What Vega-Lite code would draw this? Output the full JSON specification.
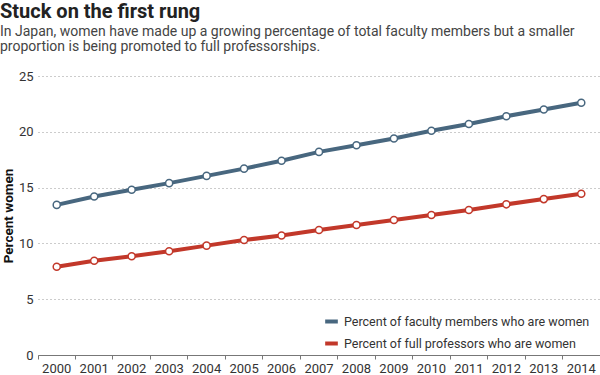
{
  "$schema": "https://vega.github.io/schema/vega-lite/v6.json",
  "autosize": "none",
  "width": 562,
  "height": 279,
  "padding": {"left": 38, "top": 76, "right": 0, "bottom": 20},
  "background": "white",
  "config": {
    "font": "Roboto",
    "view": {"stroke": null}
  },
  "title": {
    "text": "Stuck on the first rung",
    "subtitle": ["In Japan, women have made up a growing percentage of total faculty members but a smaller", "proportion is being promoted to full professorships."],
    "anchor": "start",
    "frame": "group",
    "dx": -38,
    "offset": 16,
    "font": "Roboto",
    "fontSize": 20,
    "fontWeight": "bold",
    "color": "#222222",
    "subtitleFont": "Roboto",
    "subtitleFontSize": 14,
    "subtitleColor": "#444444",
    "subtitleLineHeight": 15,
    "subtitlePadding": 3
  },
  "data": {
    "values": [
      {"year": "2000", "series": "Percent of faculty members who are women", "value": 13.45},
      {"year": "2001", "series": "Percent of faculty members who are women", "value": 14.2},
      {"year": "2002", "series": "Percent of faculty members who are women", "value": 14.8},
      {"year": "2003", "series": "Percent of faculty members who are women", "value": 15.4},
      {"year": "2004", "series": "Percent of faculty members who are women", "value": 16.05},
      {"year": "2005", "series": "Percent of faculty members who are women", "value": 16.7},
      {"year": "2006", "series": "Percent of faculty members who are women", "value": 17.4},
      {"year": "2007", "series": "Percent of faculty members who are women", "value": 18.2},
      {"year": "2008", "series": "Percent of faculty members who are women", "value": 18.8},
      {"year": "2009", "series": "Percent of faculty members who are women", "value": 19.4},
      {"year": "2010", "series": "Percent of faculty members who are women", "value": 20.1},
      {"year": "2011", "series": "Percent of faculty members who are women", "value": 20.7},
      {"year": "2012", "series": "Percent of faculty members who are women", "value": 21.4},
      {"year": "2013", "series": "Percent of faculty members who are women", "value": 22.0},
      {"year": "2014", "series": "Percent of faculty members who are women", "value": 22.6},
      {"year": "2000", "series": "Percent of full professors who are women", "value": 7.9},
      {"year": "2001", "series": "Percent of full professors who are women", "value": 8.45},
      {"year": "2002", "series": "Percent of full professors who are women", "value": 8.85},
      {"year": "2003", "series": "Percent of full professors who are women", "value": 9.3},
      {"year": "2004", "series": "Percent of full professors who are women", "value": 9.8},
      {"year": "2005", "series": "Percent of full professors who are women", "value": 10.3},
      {"year": "2006", "series": "Percent of full professors who are women", "value": 10.7},
      {"year": "2007", "series": "Percent of full professors who are women", "value": 11.2},
      {"year": "2008", "series": "Percent of full professors who are women", "value": 11.65},
      {"year": "2009", "series": "Percent of full professors who are women", "value": 12.1},
      {"year": "2010", "series": "Percent of full professors who are women", "value": 12.55},
      {"year": "2011", "series": "Percent of full professors who are women", "value": 13.0},
      {"year": "2012", "series": "Percent of full professors who are women", "value": 13.5},
      {"year": "2013", "series": "Percent of full professors who are women", "value": 13.97},
      {"year": "2014", "series": "Percent of full professors who are women", "value": 14.45}
    ]
  },
  "encoding": {
    "x": {
      "field": "year",
      "type": "ordinal",
      "scale": {"type": "band", "paddingInner": 0, "paddingOuter": 0},
      "axis": {
        "title": null,
        "labelAngle": 0,
        "labelFontSize": 13,
        "labelColor": "#333333",
        "labelPadding": 3,
        "domainColor": "#777777",
        "tickColor": "#777777",
        "tickSize": 4,
        "bandPosition": 0,
        "grid": false
      }
    },
    "y": {
      "field": "value",
      "type": "quantitative",
      "scale": {"domain": [0, 25], "nice": false},
      "axis": {
        "title": "Percent women",
        "titleFontSize": 13.5,
        "titleFontWeight": "bold",
        "titleColor": "#111111",
        "titlePadding": 3,
        "values": [0, 5, 10, 15, 20, 25],
        "labelFontSize": 13,
        "labelColor": "#333333",
        "labelPadding": 5,
        "domain": false,
        "ticks": false,
        "grid": true,
        "gridColor": "#999999",
        "gridDash": [1, 3],
        "gridWidth": 1
      }
    },
    "color": {
      "field": "series",
      "type": "nominal",
      "scale": {
        "domain": ["Percent of faculty members who are women", "Percent of full professors who are women"],
        "range": ["#48677f", "#c2382a"]
      },
      "legend": {
        "title": null,
        "orient": "none",
        "legendX": 285,
        "legendY": 237,
        "symbolType": "stroke",
        "symbolStrokeWidth": 4,
        "symbolSize": 160,
        "labelFontSize": 12.5,
        "labelColor": "#333333",
        "labelLimit": 400,
        "rowPadding": 5,
        "labelOffset": 4
      }
    }
  },
  "layer": [
    {
      "mark": {"type": "line", "strokeWidth": 4}
    },
    {
      "mark": {"type": "point", "shape": "circle", "filled": true, "fill": "white", "size": 50, "strokeWidth": 1.5, "opacity": 1},
      "encoding": {
        "stroke": {"field": "series", "type": "nominal", "legend": null,
          "scale": {
            "domain": ["Percent of faculty members who are women", "Percent of full professors who are women"],
            "range": ["#48677f", "#c2382a"]
          }
        }
      }
    }
  ]
}
